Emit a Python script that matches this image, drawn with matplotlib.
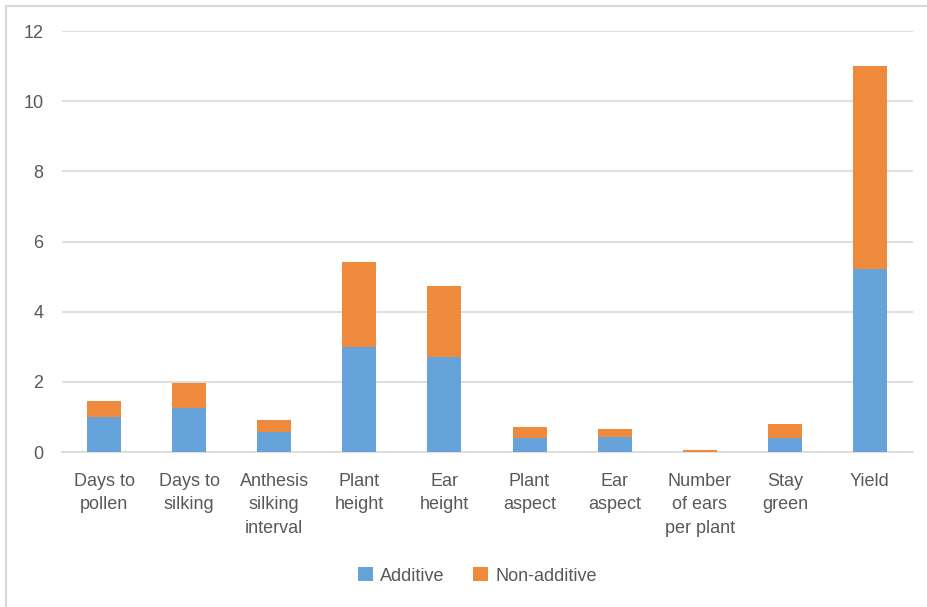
import matplotlib
matplotlib.use("Agg")
import matplotlib.pyplot as plt
from matplotlib.lines import Line2D

categories = ["Days to\npollen", "Days to\nsilking", "Anthesis\nsilking\ninterval",
              "Plant\nheight", "Ear\nheight", "Plant\naspect", "Ear\naspect",
              "Number\nof ears\nper plant", "Stay\ngreen", "Yield"]
additive = [1.00, 1.26, 0.57, 2.99, 2.71, 0.41, 0.44, 0.01, 0.41, 5.21]
total = [1.45, 1.96, 0.91, 5.41, 4.74, 0.72, 0.66, 0.06, 0.79, 11.0]
non_additive = [t - a for t, a in zip(total, additive)]
yticks = [0, 2, 4, 6, 8, 10, 12]

blue = "#65A3DA"
orange = "#EF893B"
txt = "#595959"

plt.rcParams['font.family'] = ['Liberation Sans', 'DejaVu Sans']

fig = plt.figure(figsize=(9.27, 6.07), dpi=100)
W, H = 927, 607
bx, by = 5.5 / W, 1 - 5.5 / H
fig.lines.append(Line2D([bx, 1.0], [by, by], transform=fig.transFigure,
                        color="#d9d9d9", linewidth=1.5))
fig.lines.append(Line2D([bx, bx], [0.0, by], transform=fig.transFigure,
                        color="#d9d9d9", linewidth=1.5))
ax = fig.add_axes([61.5 / W, 0.2553, 851 / W, 0.6936])
x = range(len(categories))
ax.bar(x, additive, width=0.4, color=blue, label="Additive", zorder=3)
ax.bar(x, non_additive, width=0.4, bottom=additive, color=orange, label="Non-additive", zorder=3)

ax.set_ylim(0, 12)
ax.set_xlim(-0.5, len(categories) - 0.5)
ax.set_yticks(yticks)
ax.yaxis.grid(True, color="#d9d9d9", linewidth=1.2, zorder=0)
ax.set_axisbelow(True)
for s in ["top", "right", "left"]:
    ax.spines[s].set_visible(False)
ax.spines["bottom"].set_color("#d9d9d9")
ax.spines["bottom"].set_linewidth(1.2)
ax.tick_params(axis="both", length=0, colors=txt, labelsize=13)
ax.tick_params(axis="y", pad=13)
ax.tick_params(axis="x", pad=15)
ax.set_xticks(list(x))
ax.set_xticklabels(categories, linespacing=1.5)

leg = fig.legend(loc="center", bbox_to_anchor=(0.515, 0.051), ncol=2, frameon=False,
                 fontsize=13, handlelength=0.8, handleheight=0.8, handletextpad=0.4,
                 columnspacing=1.6)
for t in leg.get_texts():
    t.set_color(txt)

fig.savefig("out.png", dpi=100)
